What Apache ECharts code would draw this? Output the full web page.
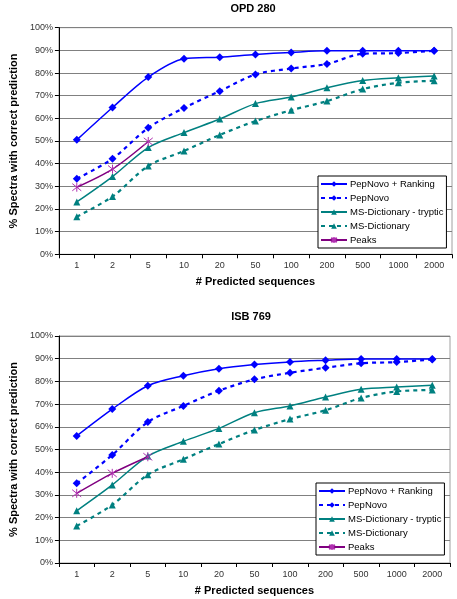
<!DOCTYPE html>
<html>
<head>
<meta charset="utf-8">
<script src="https://cdn.jsdelivr.net/npm/echarts@6/dist/echarts.min.js"></script>
<style>
html,body{margin:0;padding:0;background:#fff;}
#chart{width:457px;height:599px;}
</style>
</head>
<body>
<div id="chart"></div>
<script>
const categories = ['1','2','5','10','20','50','100','200','500','1000','2000'];
const titles = ['OPD 280', 'ISB 769'];
const seriesNames = ['PepNovo + Ranking','PepNovo','MS-Dictionary - tryptic','MS-Dictionary','Peaks'];

const opdRanking  = [50.5,64.8,78.2,86.3,87.0,88.2,89.1,89.8,89.8,89.8,89.8];
const opdPepNovo  = [33.3,42.2,55.8,64.6,72.0,79.4,82.0,84.0,88.5,88.8,89.8];
const opdTryptic  = [23.1,34.3,47.1,53.7,59.7,66.5,69.4,73.5,76.7,77.9,78.7];
const opdDict     = [16.6,25.5,39.0,45.6,52.7,58.8,63.6,67.6,72.9,75.7,76.6];
const opdPeaks    = [29.6,37.6,49.8];

const isbRanking  = [56.0,67.8,78.1,82.5,85.6,87.4,88.6,89.3,89.9,89.9,89.9];
const isbPepNovo  = [35.1,47.6,62.1,69.2,75.9,80.9,83.8,86.0,88.0,88.5,89.7];
const isbTryptic  = [23.0,34.4,47.1,53.6,59.3,66.2,69.2,73.1,76.5,77.5,78.3];
const isbDict     = [16.3,25.6,38.9,45.7,52.4,58.6,63.4,67.3,72.7,75.6,76.2];
const isbPeaks    = [30.7,39.5,46.8];

const BLUE = '#0000ff', TEAL = '#008080', PURPLE = '#800080';
const FONT = 'Liberation Sans, Arial, sans-serif';
const asterisk = 'path://M-4,-4L4,4M-4,4L4,-4M0,-5L0,5';

const styles = [
  {color: BLUE, type: 'solid', width: 1.5, symbol: 'diamond', size: 8},
  {color: BLUE, type: [4,4], width: 2.2, symbol: 'diamond', size: 8},
  {color: TEAL, type: 'solid', width: 1.5, symbol: 'triangle', size: 7},
  {color: TEAL, type: [4,4], width: 2.2, symbol: 'triangle', size: 7},
  {color: PURPLE, type: 'solid', width: 1.5, symbol: asterisk, size: 9}
];

function makeSeries(idx, datasets) {
  return datasets.map((d, i) => {
    const s = styles[i];
    const isStar = i === 4;
    return {
      name: seriesNames[i],
      type: 'line',
      xAxisIndex: idx, yAxisIndex: idx,
      data: d,
      smooth: 0.3,
      symbol: s.symbol,
      symbolSize: s.size,
      showSymbol: true,
      lineStyle: {color: s.color, width: s.width, type: s.type},
      itemStyle: isStar ? {color: 'rgba(0,0,0,0)', borderColor: '#b030b0', borderWidth: 1} : {color: s.color, borderWidth: 0},
      z: 2 + i,
      animation: false
    };
  });
}

const grids = [
  {left: 47.5, top: 27.7, width: 404.5, height: 226.6},
  {left: 44.5, top: 336, width: 405.5, height: 227}
];

function xAxisCfg(idx) {
  return {
    type: 'category', gridIndex: idx, data: categories, boundaryGap: true,
    axisLine: {lineStyle: {color: '#000', width: 1}},
    axisTick: {show: true, length: 4, lineStyle: {color: '#000'}},
    axisLabel: {fontFamily: FONT, fontSize: 9, color: '#333', margin: 7},
    name: '# Predicted sequences', nameLocation: 'middle', nameGap: 22,
    nameTextStyle: {fontFamily: FONT, fontSize: 11, fontWeight: 'bold', color: '#000'}
  };
}
function yAxisCfg(idx) {
  return {
    type: 'value', gridIndex: idx, min: 0, max: 100, interval: 10,
    axisLine: {show: true, lineStyle: {color: '#000', width: 1}},
    axisTick: {show: true, length: 4, lineStyle: {color: '#000'}},
    axisLabel: {fontFamily: FONT, fontSize: 9, color: '#333', margin: 6, formatter: '{value}%'},
    splitLine: {show: true, lineStyle: {color: '#808080', width: 1}},
    name: '% Spectra with correct prediction', nameLocation: 'middle', nameGap: idx === 0 ? 34 : 31, nameRotate: 90,
    nameTextStyle: {fontFamily: FONT, fontSize: 11, fontWeight: 'bold', color: '#000'}
  };
}

function legendCfg(left, top) {
  return {
    data: seriesNames, orient: 'vertical', left: left, top: top,
    itemWidth: 26, itemHeight: 7, itemGap: 4,
    padding: [3, 3, 3, 2],
    borderColor: '#000', borderWidth: 1, backgroundColor: '#fff',
    textStyle: {fontFamily: FONT, fontSize: 9.5, color: '#000', padding: [0, 0, 0, -2]},
    selectedMode: false
  };
}

const option = {
  backgroundColor: '#fff',
  animation: false,
  title: [
    {text: titles[0], left: 248, top: -2, textAlign: 'center', textStyle: {fontFamily: FONT, fontSize: 11, fontWeight: 'bold', color: '#000'}},
    {text: titles[1], left: 246, top: 306, textAlign: 'center', textStyle: {fontFamily: FONT, fontSize: 11, fontWeight: 'bold', color: '#000'}}
  ],
  grid: grids.map(g => Object.assign({show: true, borderColor: '#a0a0a0', borderWidth: 1, backgroundColor: '#fff'}, g)),
  xAxis: [xAxisCfg(0), xAxisCfg(1)],
  yAxis: [yAxisCfg(0), yAxisCfg(1)],
  legend: [legendCfg(318, 176), legendCfg(316, 483)],
  series: [
    ...makeSeries(0, [opdRanking, opdPepNovo, opdTryptic, opdDict, opdPeaks]),
    ...makeSeries(1, [isbRanking, isbPepNovo, isbTryptic, isbDict, isbPeaks])
  ]
};

const chart = echarts.init(document.getElementById('chart'), null, {renderer: 'canvas'});
chart.setOption(option);
</script>
</body>
</html>
